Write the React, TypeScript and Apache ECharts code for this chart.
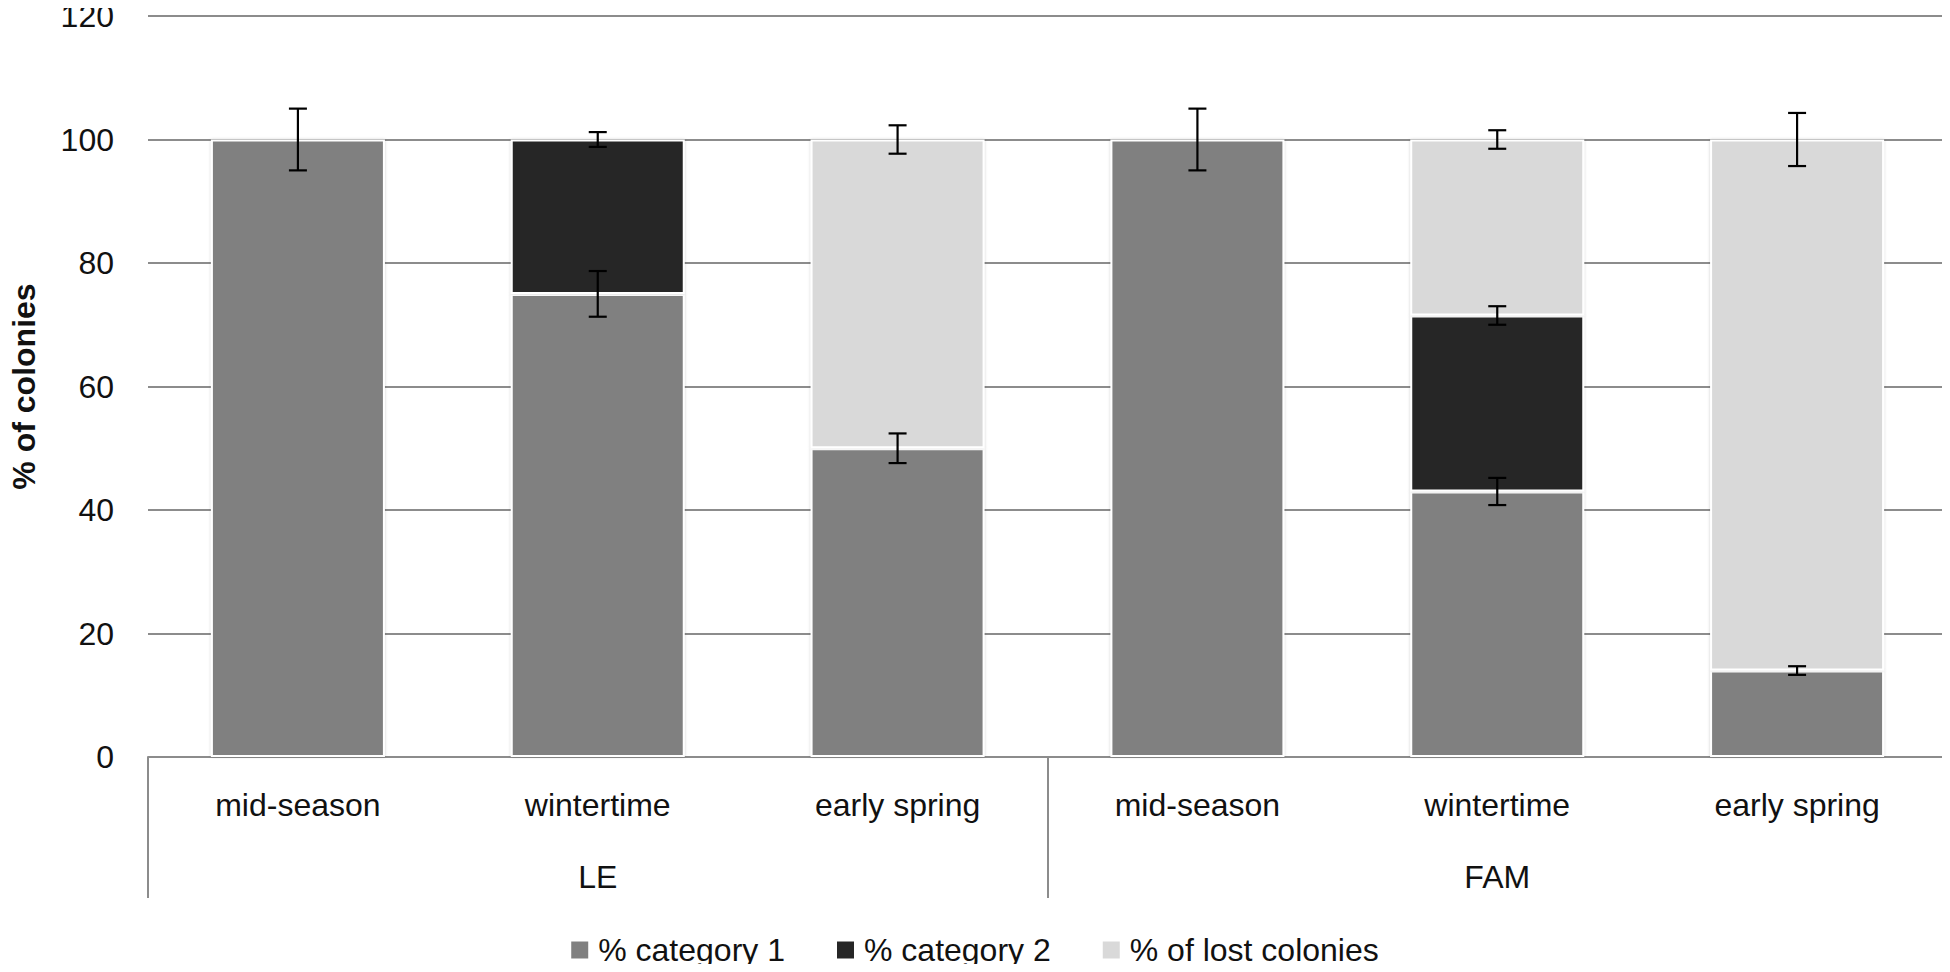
import React, { useEffect, useRef } from "react";
import * as echarts from "echarts";

const subCategories = ["mid-season", "wintertime", "early spring", "mid-season", "wintertime", "early spring"];
const groups = ["LE", "FAM"];
const yTicks = { min: 0, max: 120, interval: 20 };

const cat1 = [100, 75, 50, 100, 43, 14];
const cat2: (number | null)[] = [null, 25, null, null, 28.5, null];
const lost: (number | null)[] = [null, null, 50, null, 28.5, 86];

const errCat1 = [5, 3.7, 2.4, 5, 2.2, 0.7];
const errCat2: (number | null)[] = [null, 1.2, null, null, 1.5, null];
const errLost: (number | null)[] = [null, null, 2.3, null, 1.5, 4.3];

const seriesNames = ["% category 1", "% category 2", "% of lost colonies"];
const colors = ["#808080", "#262626", "#d9d9d9"];

const FONT = "'Liberation Sans', Arial, sans-serif";

function buildErrData() {
  const out: number[][] = [];
  for (let i = 0; i < subCategories.length; i++) {
    const t1 = cat1[i];
    out.push([i, t1, errCat1[i]]);
    const t2 = t1 + (cat2[i] ?? 0);
    if (errCat2[i] != null) out.push([i, t2, errCat2[i] as number]);
    const t3 = t2 + (lost[i] ?? 0);
    if (errLost[i] != null) out.push([i, t3, errLost[i] as number]);
  }
  return out;
}

export default function App() {
  const ref = useRef<HTMLDivElement>(null);
  useEffect(() => {
    if (!ref.current) return;
    const chart = echarts.init(ref.current, undefined, { renderer: "svg" });
    const barStyle = (c: string) => ({
      color: c,
      borderColor: "#ffffff",
      borderWidth: 2,
      shadowBlur: 3,
      shadowColor: "rgba(0,0,0,0.2)",
    });
    const option: any = {
      animation: false,
      backgroundColor: "#ffffff",
      textStyle: { fontFamily: FONT },
      grid: { left: 137, right: 3, top: 12, bottom: 215, containLabel: false },
      legend: {
        data: seriesNames,
        left: "center",
        top: 929,
        icon: "rect",
        itemWidth: 17,
        itemHeight: 17,
        itemGap: 52,
        itemStyle: { borderWidth: 0, shadowBlur: 0 },
        textStyle: { fontSize: 32, color: "#111", fontFamily: FONT, padding: [0, 0, 0, 5] },
      },
      xAxis: [
        {
          type: "category",
          data: subCategories,
          axisLine: { show: true, lineStyle: { color: "#8c8c8c", width: 2 } },
          axisTick: { show: false },
          axisLabel: { fontSize: 32, color: "#111", margin: 32, interval: 0, fontFamily: FONT },
        },
        {
          type: "category",
          data: groups,
          position: "bottom",
          axisLine: { show: false },
          axisTick: { show: true, length: 141, lineStyle: { color: "#8c8c8c", width: 2 } },
          axisLabel: { fontSize: 32, color: "#111", margin: 104, fontFamily: FONT },
        },
      ],
      yAxis: {
        type: "value",
        min: yTicks.min,
        max: yTicks.max,
        interval: yTicks.interval,
        axisLine: { show: false },
        axisTick: { show: false },
        axisLabel: { fontSize: 32, color: "#111", margin: 34, fontFamily: FONT },
        splitLine: { lineStyle: { color: "#8c8c8c", width: 2 } },
        name: "% of colonies",
        nameLocation: "middle",
        nameRotate: 90,
        nameGap: 108,
        nameTextStyle: { fontSize: 32, fontWeight: "bold", color: "#111", fontFamily: FONT },
      },
      series: [
        { name: seriesNames[0], type: "bar", stack: "s", data: cat1, barWidth: 174, itemStyle: barStyle(colors[0]) },
        { name: seriesNames[1], type: "bar", stack: "s", data: cat2, barWidth: 174, itemStyle: barStyle(colors[1]) },
        { name: seriesNames[2], type: "bar", stack: "s", data: lost, barWidth: 174, itemStyle: barStyle(colors[2]) },
        {
          type: "custom",
          name: "err",
          xAxisIndex: 0,
          z: 10,
          data: buildErrData(),
          encode: { x: 0, y: 1 },
          renderItem: (params: any, api: any) => {
            const x = api.value(0);
            const c = api.value(1);
            const e = api.value(2);
            const top = api.coord([x, c + e]);
            const bot = api.coord([x, c - e]);
            const hw = 9;
            const st = { stroke: "#000", lineWidth: 2.2 };
            return {
              type: "group",
              children: [
                { type: "line", shape: { x1: top[0], y1: top[1], x2: bot[0], y2: bot[1] }, style: st },
                { type: "line", shape: { x1: top[0] - hw, y1: top[1], x2: top[0] + hw, y2: top[1] }, style: st },
                { type: "line", shape: { x1: bot[0] - hw, y1: bot[1], x2: bot[0] + hw, y2: bot[1] }, style: st },
              ],
            };
          },
        },
      ],
    };
    chart.setOption(option);
    return () => chart.dispose();
  }, []);
  return <div ref={ref} style={{ width: 1950, height: 972, margin: -8 }} />;
}
